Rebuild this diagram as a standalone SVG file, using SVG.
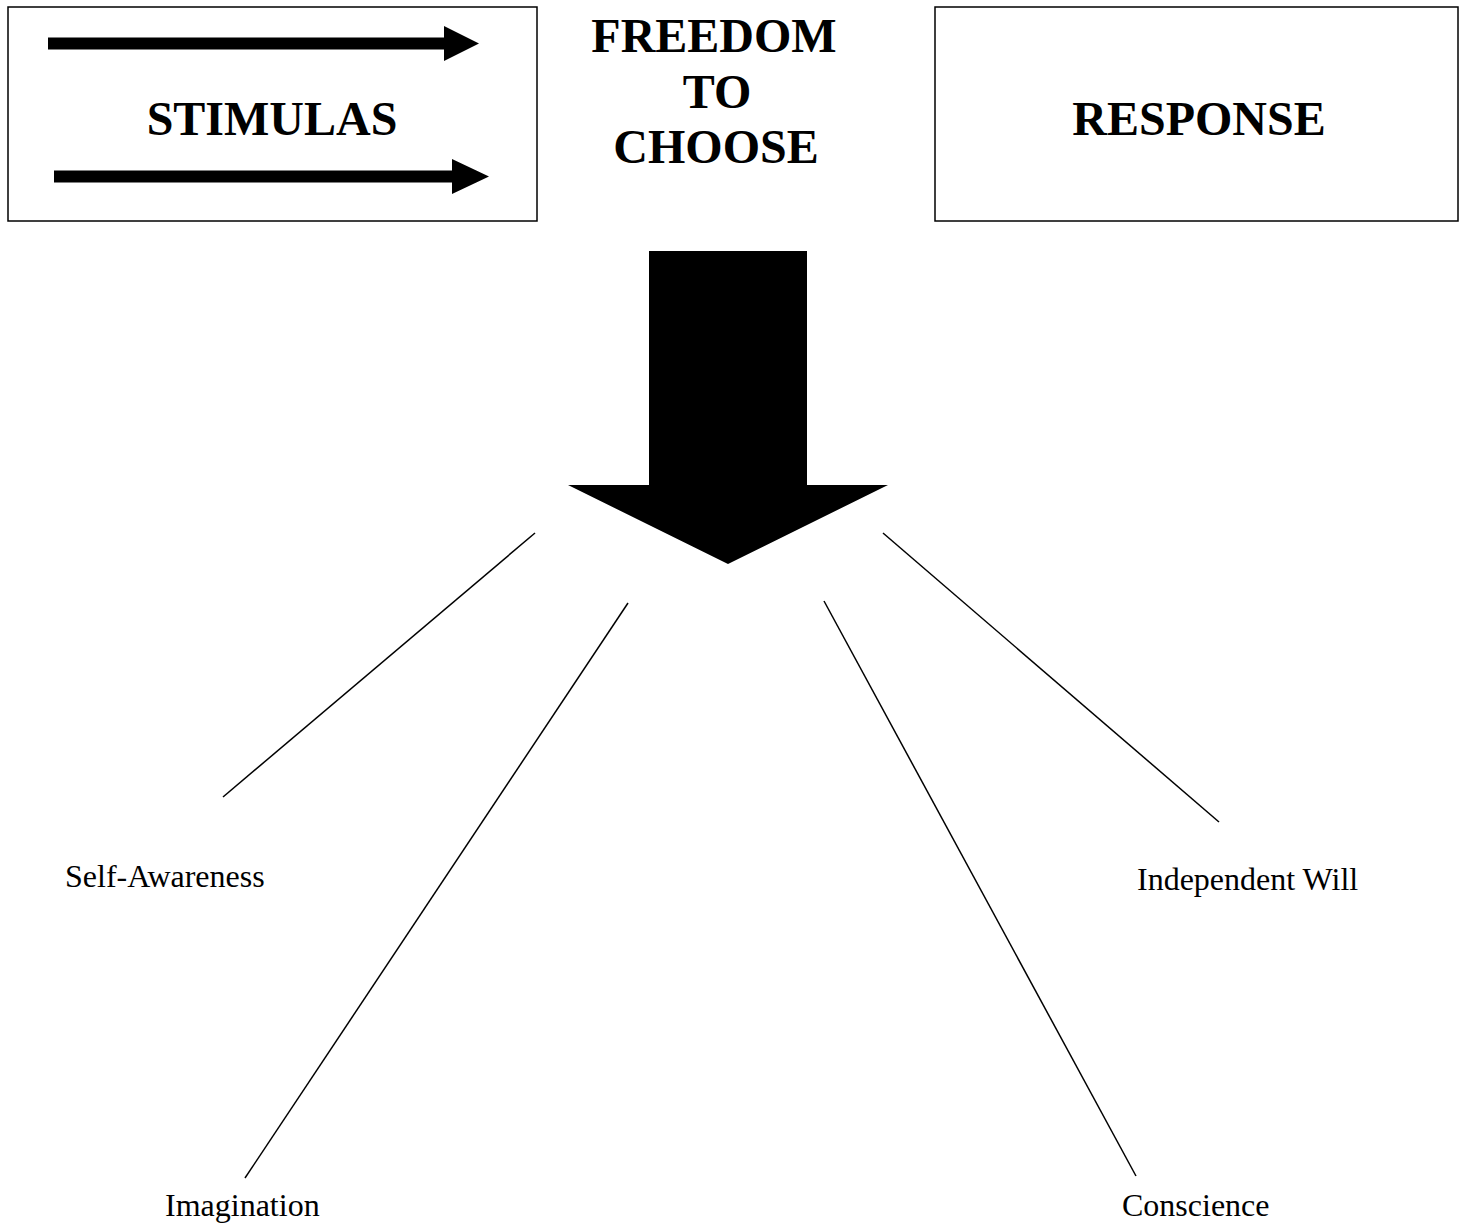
<svg xmlns="http://www.w3.org/2000/svg" width="1468" height="1224" viewBox="0 0 1468 1224">
<style>
.box{fill:#fff;stroke:#000;stroke-width:1.5}
.big{font-family:"Liberation Serif","Times New Roman",serif;font-weight:bold;font-size:48px;text-anchor:middle;fill:#000}
.lbl{font-family:"Liberation Serif","Times New Roman",serif;font-size:32px;fill:#000}
.conn{stroke:#000;stroke-width:1.5;fill:none}
.solid{fill:#000}
</style>
<rect width="1468" height="1224" fill="#fff"/>
<g id="stimulas">
<rect class="box" x="8" y="7" width="529" height="214"/>
<polygon class="solid" points="48,37.5 444,37.5 444,26 479,43.5 444,61 444,49.5 48,49.5"/>
<polygon class="solid" points="54,170.5 452,170.5 452,159 489,176.5 452,194 452,182.5 54,182.5"/>
<text class="big" x="272" y="135">STIMULAS</text>
</g>
<g id="freedom">
<text class="big" x="714" y="52">FREEDOM</text>
<text class="big" x="717" y="108">TO</text>
<text class="big" x="716" y="163">CHOOSE</text>
</g>
<g id="response">
<rect class="box" x="935" y="7" width="523" height="214"/>
<text class="big" x="1199" y="135">RESPONSE</text>
</g>
<g id="bigArrow">
<polygon class="solid" points="649,251 807,251 807,485 888,485 728,564 568,485 649,485"/>
</g>
<g id="connectors">
<line class="conn" x1="535" y1="533" x2="223" y2="797"/>
<line class="conn" x1="628" y1="603" x2="245" y2="1178"/>
<line class="conn" x1="824" y1="601" x2="1136" y2="1176"/>
<line class="conn" x1="883" y1="533" x2="1219" y2="822"/>
</g>
<g id="self-awareness"><text class="lbl" x="65" y="887">Self-Awareness</text></g>
<g id="independent-will"><text class="lbl" x="1137" y="890">Independent Will</text></g>
<g id="imagination"><text class="lbl" x="165" y="1216">Imagination</text></g>
<g id="conscience"><text class="lbl" x="1122" y="1216">Conscience</text></g>
</svg>
